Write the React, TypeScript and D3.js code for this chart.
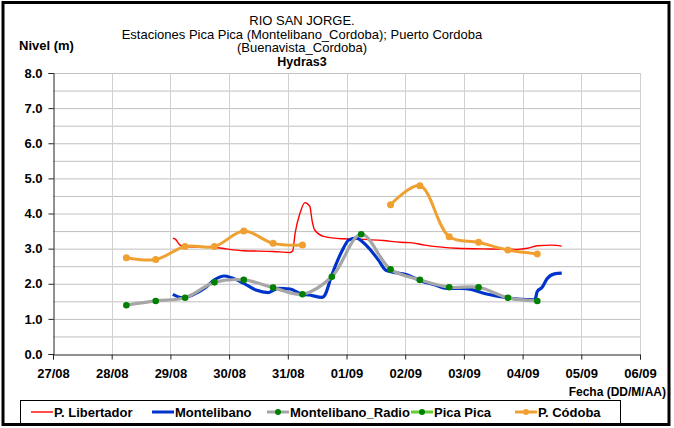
import React, { useRef, useEffect } from 'react';
import * as d3 from 'd3';

// 12-hourly readings (Montelibano_Radio and P. Córdoba)
const sampleTimes = [
  "28/08 06:00", "28/08 18:00", "29/08 06:00", "29/08 18:00", "30/08 06:00",
  "30/08 18:00", "31/08 06:00", "31/08 18:00", "01/09 06:00", "01/09 18:00",
  "02/09 06:00", "02/09 18:00", "03/09 06:00", "03/09 18:00", "04/09 06:00"
];
const radioValues = [1.39, 1.51, 1.60, 2.04, 2.11, 1.89, 1.70, 2.20, 3.41, 2.41, 2.11, 1.90, 1.90, 1.60, 1.51];
const cordobaValues = [2.74, 2.69, 3.06, 3.06, 3.50, 3.15, 3.10, null, null, 4.25, 4.79, 3.34, 3.18, 2.96, 2.85];
const picaPicaValues: number[] = [];

// Hydras3 automatic stations
const libertadorTimes = [
  "29/08 01:00", "29/08 02:00", "29/08 04:00", "29/08 06:00", "29/08 18:00",
  "30/08 06:00", "30/08 18:00", "31/08 01:00", "31/08 02:00", "31/08 03:00",
  "31/08 05:00", "31/08 07:00", "31/08 09:00", "31/08 10:00", "31/08 11:00",
  "31/08 15:00", "31/08 22:00", "01/09 04:00", "01/09 15:00", "01/09 22:00",
  "02/09 02:00", "02/09 08:00", "02/09 21:00", "03/09 11:00", "03/09 22:00",
  "04/09 02:00", "04/09 06:00", "04/09 12:00", "04/09 16:00"
];
const libertadorValues = [
  3.30, 3.27, 3.10, 3.06, 3.03, 2.94, 2.92, 2.89, 2.93, 3.44,
  4.01, 4.31, 4.20, 3.77, 3.53, 3.34, 3.28, 3.27, 3.23, 3.18,
  3.17, 3.10, 3.01, 2.99, 2.98, 3.01, 3.08, 3.10, 3.07
];

const montelibanoTimes = [
  "29/08 01:00", "29/08 05:00", "29/08 09:00", "29/08 14:00", "29/08 18:00",
  "29/08 22:00", "30/08 01:00", "30/08 06:00", "30/08 11:00", "30/08 16:00",
  "30/08 20:00", "31/08 01:00", "31/08 05:00", "31/08 09:00", "31/08 14:00",
  "31/08 15:00", "31/08 18:00", "31/08 22:00", "01/09 01:00", "01/09 04:00",
  "01/09 08:00", "01/09 13:00", "01/09 16:00", "01/09 19:00", "02/09 01:00",
  "02/09 06:00", "02/09 12:00", "02/09 17:00", "02/09 23:00", "03/09 03:00",
  "03/09 08:00", "03/09 15:00", "03/09 22:00", "04/09 05:00", "04/09 06:00",
  "04/09 08:00", "04/09 10:00", "04/09 13:00", "04/09 16:00"
];
const montelibanoValues = [
  1.70, 1.60, 1.68, 1.87, 2.11, 2.22, 2.17, 2.01, 1.82, 1.75,
  1.87, 1.85, 1.72, 1.68, 1.61, 1.66, 2.25, 2.91, 3.25, 3.30,
  3.10, 2.68, 2.39, 2.33, 2.25, 2.09, 1.97, 1.87, 1.87, 1.84,
  1.73, 1.63, 1.56, 1.54, 1.78, 1.90, 2.14, 2.28, 2.30
];

const yTicks = [0, 1, 2, 3, 4, 5, 6, 7, 8];
const titleLines = [
  "RIO SAN JORGE.",
  "Estaciones Pica Pica (Montelibano_Cordoba); Puerto Cordoba",
  "(Buenavista_Cordoba)"
];
const subtitle = "Hydras3";

interface Pt { t: Date; v: number | null }

const W = 674;
const H = 428;
const FONT = "'Liberation Sans', Arial, sans-serif";

const App: React.FC = () => {
  const svgRef = useRef<SVGSVGElement>(null);

  useEffect(() => {
    if (!svgRef.current) return;
    const svg = d3.select(svgRef.current);
    svg.selectAll("*").remove();

    const parse = d3.timeParse("%d/%m %H:%M");
    const p = (s: string) => parse(s) as Date;

    const left = 53, right = 640, top = 73, bottom = 354;
    const x = d3.scaleTime().domain([p("27/08 00:00"), p("06/09 00:00")]).range([left, right]);
    const y = d3.scaleLinear().domain([0, 8]).range([bottom, top]);

    // outer frame
    svg.append("rect")
      .attr("x", 3).attr("y", 2.5).attr("width", 666).attr("height", 422)
      .attr("fill", "white").attr("stroke", "#000").attr("stroke-width", 3);

    // grid
    const hLines = d3.range(0.5, 8.01, 0.5);
    svg.append("g").selectAll("line").data(hLines).enter().append("line")
      .attr("x1", left).attr("x2", right)
      .attr("y1", d => y(d) + 0.5).attr("y2", d => y(d) + 0.5)
      .attr("stroke", "#c0c0c0").attr("stroke-width", 1);
    const days = d3.timeDay.range(p("28/08 00:00"), d3.timeDay.offset(p("06/09 00:00"), 1));
    svg.append("g").selectAll("line").data(days).enter().append("line")
      .attr("x1", d => Math.round(x(d)) + 0.5).attr("x2", d => Math.round(x(d)) + 0.5)
      .attr("y1", top).attr("y2", bottom)
      .attr("stroke", "#d0d0d0").attr("stroke-width", 1);

    // axes
    const yAxis = d3.axisLeft(y).tickValues(yTicks).tickSize(5).tickPadding(6)
      .tickFormat(d => d3.format(".1f")(d as number));
    const gy = svg.append("g").attr("transform", `translate(${left + 0.5},0)`).call(yAxis);
    gy.selectAll("path, line").attr("stroke", "#222");
    gy.selectAll("text")
      .style("font-family", FONT).style("font-size", "13px").style("font-weight", "bold")
      .attr("fill", "#000");

    const xAxis = d3.axisBottom(x).ticks(d3.timeDay.every(1)).tickSize(5).tickPadding(9)
      .tickFormat(d => d3.timeFormat("%d/%m")(d as Date));
    const gx = svg.append("g").attr("transform", `translate(0,${bottom + 0.5})`).call(xAxis);
    gx.selectAll("path, line").attr("stroke", "#222");
    gx.selectAll("text")
      .style("font-family", FONT).style("font-size", "13px").style("font-weight", "bold")
      .attr("fill", "#000");

    // series
    const mk = (times: string[], vals: (number | null)[]): Pt[] =>
      times.map((s, i) => ({ t: p(s), v: vals[i] }));

    const smooth = d3.line<Pt>()
      .defined(d => d.v !== null)
      .x(d => x(d.t)).y(d => y(d.v as number))
      .curve(d3.curveMonotoneX);
    const spline = d3.line<Pt>()
      .defined(d => d.v !== null)
      .x(d => x(d.t)).y(d => y(d.v as number))
      .curve(d3.curveCatmullRom.alpha(0.5));

    const libertador = mk(libertadorTimes, libertadorValues);
    const montelibano = mk(montelibanoTimes, montelibanoValues);
    const radio = mk(sampleTimes, radioValues);
    const cordoba = mk(sampleTimes, cordobaValues);
    const picaPica = mk(sampleTimes.slice(0, picaPicaValues.length), picaPicaValues);

    svg.append("path").datum(libertador).attr("d", smooth)
      .attr("fill", "none").attr("stroke", "#ff0000").attr("stroke-width", 1.4);

    svg.append("path").datum(cordoba).attr("d", spline)
      .attr("fill", "none").attr("stroke", "#f0a030").attr("stroke-width", 3);
    svg.append("g").selectAll("circle").data(cordoba.filter(d => d.v !== null)).enter()
      .append("circle").attr("cx", d => x(d.t)).attr("cy", d => y(d.v as number))
      .attr("r", 3.5).attr("fill", "#f0a030");

    svg.append("path").datum(montelibano).attr("d", smooth)
      .attr("fill", "none").attr("stroke", "#0033cc").attr("stroke-width", 3.2);

    svg.append("path").datum(radio).attr("d", spline)
      .attr("fill", "none").attr("stroke", "#a6a6a6").attr("stroke-width", 3.2);
    svg.append("g").selectAll("circle").data(radio).enter()
      .append("circle").attr("cx", d => x(d.t)).attr("cy", d => y(d.v as number))
      .attr("r", 3.3).attr("fill", "#008000");

    if (picaPica.length) {
      svg.append("path").datum(picaPica).attr("d", spline)
        .attr("fill", "none").attr("stroke", "#66cc33").attr("stroke-width", 3);
    }

    // titles
    const cx = 302;
    titleLines.forEach((t, i) => {
      svg.append("text").attr("x", cx).attr("y", 25 + i * 13.5)
        .attr("text-anchor", "middle")
        .style("font-family", FONT).style("font-size", "13px")
        .text(t);
    });
    svg.append("text").attr("x", cx).attr("y", 66)
      .attr("text-anchor", "middle")
      .style("font-family", FONT).style("font-size", "12.5px").style("font-weight", "bold")
      .text(subtitle);
    svg.append("text").attr("x", 19).attr("y", 50)
      .style("font-family", FONT).style("font-size", "13px").style("font-weight", "bold")
      .text("Nivel (m)");
    svg.append("text").attr("x", 666).attr("y", 396)
      .attr("text-anchor", "end")
      .style("font-family", FONT).style("font-size", "12px").style("font-weight", "bold")
      .text("Fecha (DD/M/AA)");

    // legend
    const lg = svg.append("g");
    lg.append("rect").attr("x", 20.5).attr("y", 400.5).attr("width", 600).attr("height", 23)
      .attr("fill", "white").attr("stroke", "#000").attr("stroke-width", 1);
    const items = [
      { name: "P. Libertador", color: "#ff0000", w: 1.4, x0: 31, dot: null as string | null },
      { name: "Montelibano", color: "#0033cc", w: 3, x0: 152, dot: null },
      { name: "Montelibano_Radio", color: "#a6a6a6", w: 3, x0: 267, dot: "#008000" },
      { name: "Pica Pica", color: "#66cc33", w: 3, x0: 411, dot: "#008000" },
      { name: "P. Códoba", color: "#f0a030", w: 3, x0: 515, dot: "#f0a030" }
    ];
    const ly = 412;
    items.forEach(it => {
      lg.append("line").attr("x1", it.x0).attr("x2", it.x0 + 22)
        .attr("y1", ly).attr("y2", ly)
        .attr("stroke", it.color).attr("stroke-width", it.w);
      if (it.dot) {
        lg.append("circle").attr("cx", it.x0 + 11).attr("cy", ly).attr("r", 3).attr("fill", it.dot);
      }
      lg.append("text").attr("x", it.x0 + 23).attr("y", ly + 4.5)
        .style("font-family", FONT).style("font-size", "13px").style("font-weight", "bold")
        .text(it.name);
    });
  }, []);

  return (
    <svg
      ref={svgRef}
      width={W}
      height={H}
      style={{ position: 'absolute', left: 0, top: 0, background: 'white' }}
      viewBox={`0 0 ${W} ${H}`}
    />
  );
};

export default App;
